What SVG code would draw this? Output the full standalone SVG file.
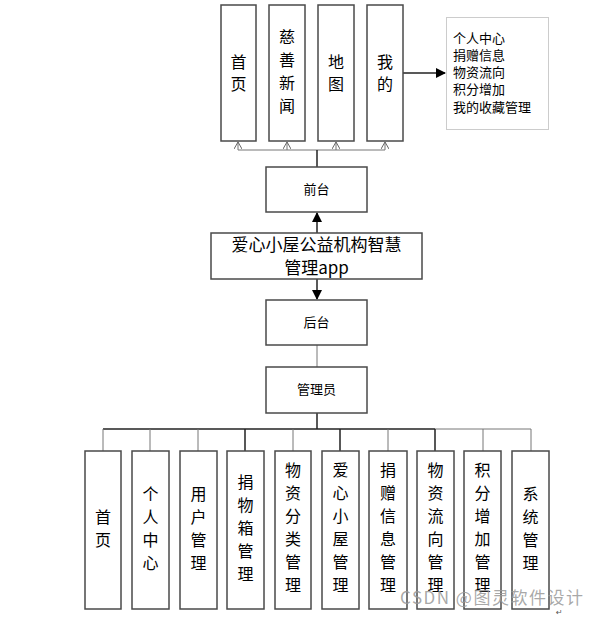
<svg xmlns="http://www.w3.org/2000/svg" width="606" height="618" viewBox="0 0 606 618">
<defs>
<marker id="fa" markerWidth="10" markerHeight="10" refX="9" refY="5" orient="auto" markerUnits="userSpaceOnUse"><path d="M0,0 L10,5 L0,10 Z" fill="#000"/></marker>
<marker id="oa" markerWidth="8" markerHeight="8" refX="7" refY="4" orient="auto" markerUnits="userSpaceOnUse"><path d="M0,0 L7,4 L0,8" fill="none" stroke="#666" stroke-width="1"/></marker>
<style>
.b{fill:#fff;stroke:#4a4a4a;stroke-width:1.5}
.t{font-family:"Noto Sans CJK SC","Noto Sans",sans-serif;fill:#000;text-anchor:middle}
.v{font-size:16px}
.s{font-size:13px}
.c{stroke:#222;stroke-width:1.5;fill:none}
.g{stroke:#777;stroke-width:1;fill:none}
</style>
</defs>
<rect width="606" height="618" fill="#fff"/>
<g id="connectors">
<path class="g" d="M238,150 H385" />
<path class="g" d="M238,150 V142" marker-end="url(#oa)"/>
<path class="g" d="M287,150 V142" marker-end="url(#oa)"/>
<path class="g" d="M336,150 V142" marker-end="url(#oa)"/>
<path class="g" d="M385,150 V142" marker-end="url(#oa)"/>
<path class="c" d="M317,150 V167"/>
<path class="c" d="M403,73 H445" marker-end="url(#fa)"/>
<path class="c" d="M317,233 V213" marker-end="url(#fa)"/>
<path class="c" d="M317,279 V299" marker-end="url(#fa)"/>
<path class="g" d="M317,345 V367"/>
<path class="c" d="M317,413 V429"/>
<path class="c" d="M103,429 H435"/>
<path class="g" d="M435,429 H531"/>
<path class="g" d="M103,429 V451 M150,429 V451 M198,429 V451 M293,429 V451 M388,429 V451 M483,429 V451 M531,429 V451"/>
<path class="c" d="M245,429 V451 M340,429 V451 M435,429 V451"/>
</g>
<g id="n-shouye"><rect class="b" x="221" y="5" width="35" height="136"/><text class="t v" x="238.5" y="68">首</text><text class="t v" x="238.5" y="90">页</text></g>
<g id="n-cishan"><rect class="b" x="269" y="5" width="36" height="136"/><text class="t v" x="287" y="43">慈</text><text class="t v" x="287" y="66">善</text><text class="t v" x="287" y="89">新</text><text class="t v" x="287" y="112">闻</text></g>
<g id="n-ditu"><rect class="b" x="318" y="5" width="36" height="136"/><text class="t v" x="336" y="68">地</text><text class="t v" x="336" y="90">图</text></g>
<g id="n-wode"><rect class="b" x="367" y="5" width="36" height="136"/><text class="t v" x="385" y="68">我</text><text class="t v" x="385" y="90">的</text></g>
<g id="n-wode-list"><rect x="446.5" y="17.5" width="102" height="112" fill="#fff" stroke="#ccc" stroke-width="1"/>
<text class="t" style="font-size:13px;text-anchor:start" x="453"><tspan x="453" y="43">个人中心</tspan><tspan x="453" y="60">捐赠信息</tspan><tspan x="453" y="77">物资流向</tspan><tspan x="453" y="94">积分增加</tspan><tspan x="453" y="112">我的收藏管理</tspan></text></g>
<g id="n-qiantai"><rect class="b" x="266" y="167" width="101" height="45"/><text class="t s" x="316.5" y="194">前台</text></g>
<g id="n-app"><rect class="b" x="211" y="233" width="211" height="46"/><text class="t" style="font-size:17px" x="316.5" y="251">爱心小屋公益机构智慧</text><text class="t" style="font-size:17px" x="316.5" y="274">管理app</text></g>
<g id="n-houtai"><rect class="b" x="266" y="300" width="101" height="45"/><text class="t s" x="316.5" y="327">后台</text></g>
<g id="n-admin"><rect class="b" x="266" y="367" width="101" height="46"/><text class="t s" x="316.5" y="394">管理员</text></g>
<g id="m1"><rect class="b" x="85" y="451" width="36" height="158"/><text class="t v" x="103" y="523">首</text><text class="t v" x="103" y="546">页</text></g>
<g id="m2"><rect class="b" x="132" y="451" width="37" height="158"/><text class="t v" x="150.5" y="500">个</text><text class="t v" x="150.5" y="523">人</text><text class="t v" x="150.5" y="546">中</text><text class="t v" x="150.5" y="569">心</text></g>
<g id="m3"><rect class="b" x="180" y="451" width="37" height="158"/><text class="t v" x="198.5" y="500">用</text><text class="t v" x="198.5" y="523">户</text><text class="t v" x="198.5" y="546">管</text><text class="t v" x="198.5" y="569">理</text></g>
<g id="m4"><rect class="b" x="227" y="451" width="37" height="158"/><text class="t v" x="245.5" y="488">捐</text><text class="t v" x="245.5" y="511">物</text><text class="t v" x="245.5" y="534">箱</text><text class="t v" x="245.5" y="557">管</text><text class="t v" x="245.5" y="580">理</text></g>
<g id="m5"><rect class="b" x="275" y="451" width="36" height="158"/><text class="t v" x="293" y="476">物</text><text class="t v" x="293" y="499">资</text><text class="t v" x="293" y="522">分</text><text class="t v" x="293" y="545">类</text><text class="t v" x="293" y="568">管</text><text class="t v" x="293" y="591">理</text></g>
<g id="m6"><rect class="b" x="322" y="451" width="37" height="158"/><text class="t v" x="340.5" y="476">爱</text><text class="t v" x="340.5" y="499">心</text><text class="t v" x="340.5" y="522">小</text><text class="t v" x="340.5" y="545">屋</text><text class="t v" x="340.5" y="568">管</text><text class="t v" x="340.5" y="591">理</text></g>
<g id="m7"><rect class="b" x="369" y="451" width="38" height="158"/><text class="t v" x="388" y="476">捐</text><text class="t v" x="388" y="499">赠</text><text class="t v" x="388" y="522">信</text><text class="t v" x="388" y="545">息</text><text class="t v" x="388" y="568">管</text><text class="t v" x="388" y="591">理</text></g>
<g id="m8"><rect class="b" x="417" y="451" width="37" height="158"/><text class="t v" x="435.5" y="476">物</text><text class="t v" x="435.5" y="499">资</text><text class="t v" x="435.5" y="522">流</text><text class="t v" x="435.5" y="545">向</text><text class="t v" x="435.5" y="568">管</text><text class="t v" x="435.5" y="591">理</text></g>
<g id="m9"><rect class="b" x="464" y="451" width="37" height="158"/><text class="t v" x="482.5" y="476">积</text><text class="t v" x="482.5" y="499">分</text><text class="t v" x="482.5" y="522">增</text><text class="t v" x="482.5" y="545">加</text><text class="t v" x="482.5" y="568">管</text><text class="t v" x="482.5" y="591">理</text></g>
<g id="m10"><rect class="b" x="512" y="451" width="37" height="158"/><text class="t v" x="530.5" y="500">系</text><text class="t v" x="530.5" y="523">统</text><text class="t v" x="530.5" y="546">管</text><text class="t v" x="530.5" y="569">理</text></g>
<text x="400" y="604" style="font-family:'Noto Sans CJK SC','Noto Sans',sans-serif;font-size:17px;letter-spacing:1.5px;fill:#999;fill-opacity:0.85">CSDN @图灵软件设计</text>
<text x="556" y="615" style="font-family:'DejaVu Sans',sans-serif;font-size:8px;fill:#555">↵</text>
</svg>
